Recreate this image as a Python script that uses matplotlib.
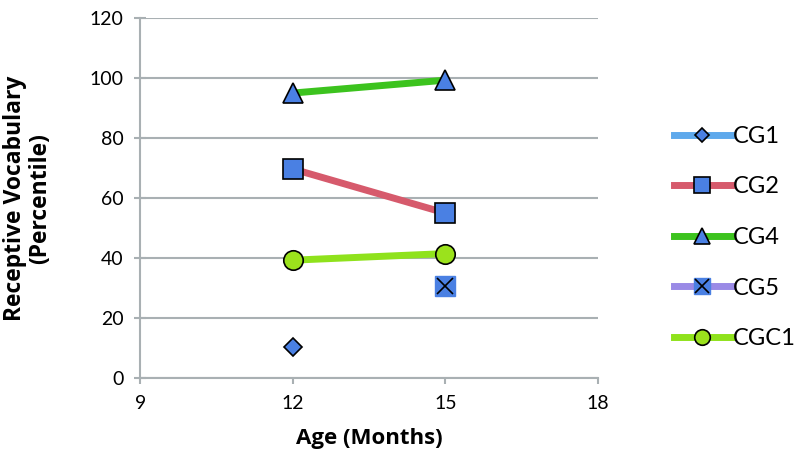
import matplotlib
matplotlib.use('Agg')
import matplotlib.pyplot as plt
from matplotlib.lines import Line2D
from matplotlib.legend_handler import HandlerTuple
import numpy as np

# %% Data
ages      = [12, 15]
groups    = ['CG1', 'CG2', 'CG4', 'CG5', 'CGC1']
cg1       = [10.3, np.nan]
cg2       = [69.7, 55.0]
cg4       = [95.0, 99.3]
cg5       = [np.nan, 30.7]
cgc1      = [39.3, 41.5]

# Styles
line_colors = ['#5ea9ec', '#d65a6c', '#3cc31e', '#9a8ae6', '#8fe21c']
markers     = ['D', 's', '^', 'X', 'o']
msizes      = [9, 14, 14, 14, 14]
face_blue   = '#4a80e3'
face_lime   = '#9be21c'
grid_color  = '#a9b0b3'

plt.rcParams['font.family'] = ['Lato', 'DejaVu Sans']
label_font = ['Open Sans', 'DejaVu Sans']

fig = plt.figure(figsize=(8.06, 4.75), dpi=100)
ax = fig.add_axes([0.174, 0.204, 0.568, 0.758])

series = [cg1, cg2, cg4, cg5, cgc1]
handles = []
for i, vals in enumerate(series):
    face = face_lime if groups[i] == 'CGC1' else face_blue
    if markers[i] == 'X':
        # square with a cross on top
        ax.plot(ages, vals, color=line_colors[i], lw=5, marker='s', ms=msizes[i],
                markerfacecolor=face, markeredgecolor=face, zorder=3)
        ax.plot(ages, vals, ls='none', marker='x', ms=msizes[i]-2, mew=1.2,
                color='black', zorder=4)
        h1 = Line2D([], [], color=line_colors[i], lw=5, marker='s', ms=11,
                    markerfacecolor=face, markeredgecolor=face)
        h2 = Line2D([], [], ls='none', marker='x', ms=10, mew=1.2, color='black')
        handles.append((h1, h2))
    else:
        ax.plot(ages, vals, color=line_colors[i], lw=5, marker=markers[i], ms=msizes[i],
                markerfacecolor=face, markeredgecolor='black', mew=1.2, zorder=3)
        handles.append(Line2D([], [], color=line_colors[i], lw=5, marker=markers[i],
                              ms=msizes[i] * 0.8, markerfacecolor=face,
                              markeredgecolor='black', mew=1.2))

ax.set_xlim(9, 18)
ax.set_ylim(0, 120)
ax.set_xticks([9, 12, 15, 18])
ax.set_yticks(np.arange(0, 121, 20))
ax.yaxis.grid(True, color=grid_color, lw=1.5)
ax.set_axisbelow(True)
for s in ['top', 'right']:
    ax.spines[s].set_visible(False)
for s in ['left', 'bottom']:
    ax.spines[s].set_color(grid_color)
    ax.spines[s].set_linewidth(1.5)
ax.tick_params(axis='y', direction='inout', length=8, color=grid_color, width=1.5,
               labelsize=14, pad=8)
ax.tick_params(axis='x', direction='out', length=4, color=grid_color, width=1.5,
               labelsize=14, pad=8)

ax.set_xlabel('Age (Months)', fontsize=16, fontweight='bold', labelpad=12,
              family=label_font)
ax.set_ylabel('Receptive Vocabulary\n(Percentile)', fontsize=16.5, fontweight='bold',
              labelpad=27, linespacing=1.05, family=label_font)

fig.legend(handles, groups, loc='center left', bbox_to_anchor=(0.81, 0.5),
           frameon=False, fontsize=17, handlelength=2.4, handletextpad=0.1,
           labelspacing=1.25, handler_map={tuple: HandlerTuple(ndivide=1, pad=0)})

fig.savefig('out.png', dpi=100)
